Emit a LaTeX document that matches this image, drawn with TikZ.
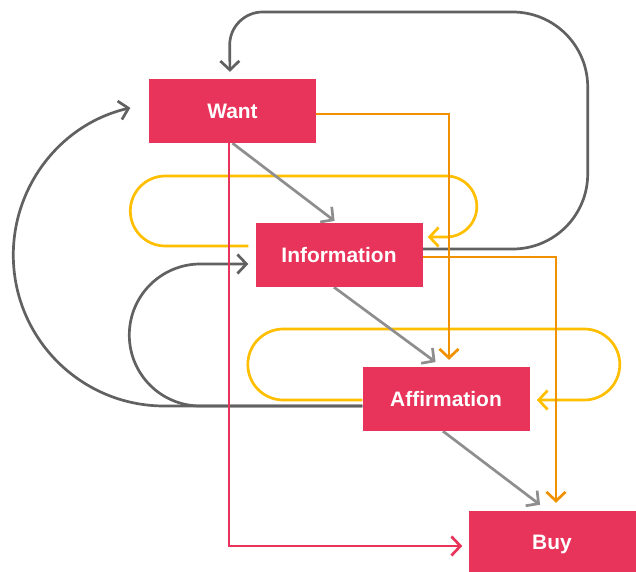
\documentclass[tikz,border=0pt]{standalone}
\usepackage{fontspec}
\setmainfont{Liberation Sans}
\usetikzlibrary{arrows.meta,backgrounds}
\definecolor{boxred}{HTML}{E8345A}
\definecolor{flowor}{HTML}{F29100}
\definecolor{flowyl}{HTML}{FFBE00}
\definecolor{darkloop}{HTML}{616161}
\definecolor{lightstep}{HTML}{8E8E8E}
\begin{document}
\begin{tikzpicture}[x=1bp,y=-1bp,
  stage/.style={fill=boxred, text=white, minimum width=167bp, minimum height=64bp,
    inner sep=0pt, font=\bfseries\fontsize{21}{25}\selectfont},
  link/.style={line width=2.7bp, -{Straight Barb[length=9bp,width=19bp]}},
  yloop/.style={link, flowyl},
  oline/.style={link, flowor},
  rline/.style={link, boxred},
  dloop/.style={link, darkloop},
  gstep/.style={link, lightstep}]
\useasboundingbox (0,0) rectangle (636,572);

% stages
\node[stage] (want) at (232.5,111) {Want};
\node[stage] (info) at (339,255) {Information};
\node[stage] (aff)  at (446,399) {Affirmation};
\node[stage, minimum height=66bp] (buy) at (552,544) {Buy};

\begin{pgfonlayer}{background}
% yellow self loops
\draw[yloop, shorten >=5bp] ([xshift=-7bp,yshift=9bp]info.west) -- ++(-83,0)
  arc[start angle=90, end angle=270, radius=35] -- ++(281,0)
  arc[start angle=-90, end angle=90, radius=30.5] -- ([yshift=18bp]info.east);
\draw[yloop, shorten >=7bp] ([yshift=-1bp]aff.west) -- ++(-79,0)
  arc[start angle=90, end angle=270, radius=35.5] -- ++(301,0)
  arc[start angle=-90, end angle=90, radius=35.5] -- ([yshift=-1bp]aff.east);

% dark grey return loops
\draw[dloop, shorten >=7bp] ([yshift=6bp]info.east) -- ++(90,0)
  arc[start angle=90, end angle=0, radius=75] -- ++(0,-87)
  arc[start angle=0, end angle=-90, radius=75] -- ++(-250,0)
  arc[start angle=-90, end angle=-180, radius=33] -- ([xshift=-2.5bp]want.north);
\draw[dloop] ([yshift=-7bp]aff.west) -- ++(-198,0)
  arc[start angle=90, end angle=257, radius=151];
\draw[dloop, shorten >=7bp] ([yshift=-7bp]aff.west) -- ++(-162,0)
  arc[start angle=90, end angle=270, radius=71] -- ([yshift=-9bp]info.west);

% light grey forward steps
\draw[gstep, shorten >=3bp] (want.south) -- ([xshift=-2bp]info.north);
\draw[gstep, shorten >=8bp] ([xshift=-5bp]info.south) -- ([xshift=-4bp]aff.north);
\draw[gstep, shorten >=10bp] ([xshift=-3bp]aff.south) -- ([xshift=-4bp]buy.north);

% orange skips
\draw[oline, shorten >=7bp] ([yshift=-3bp]want.east) -| ([xshift=3bp]aff.north);
\draw[oline, shorten >=8bp] ([yshift=-2bp]info.east) -| ([xshift=4bp]buy.north);

% direct path
\draw[rline, shorten >=6bp] ([xshift=-3.5bp]want.south) |- ([yshift=-2bp]buy.west);
\end{pgfonlayer}
\end{tikzpicture}
\end{document}
